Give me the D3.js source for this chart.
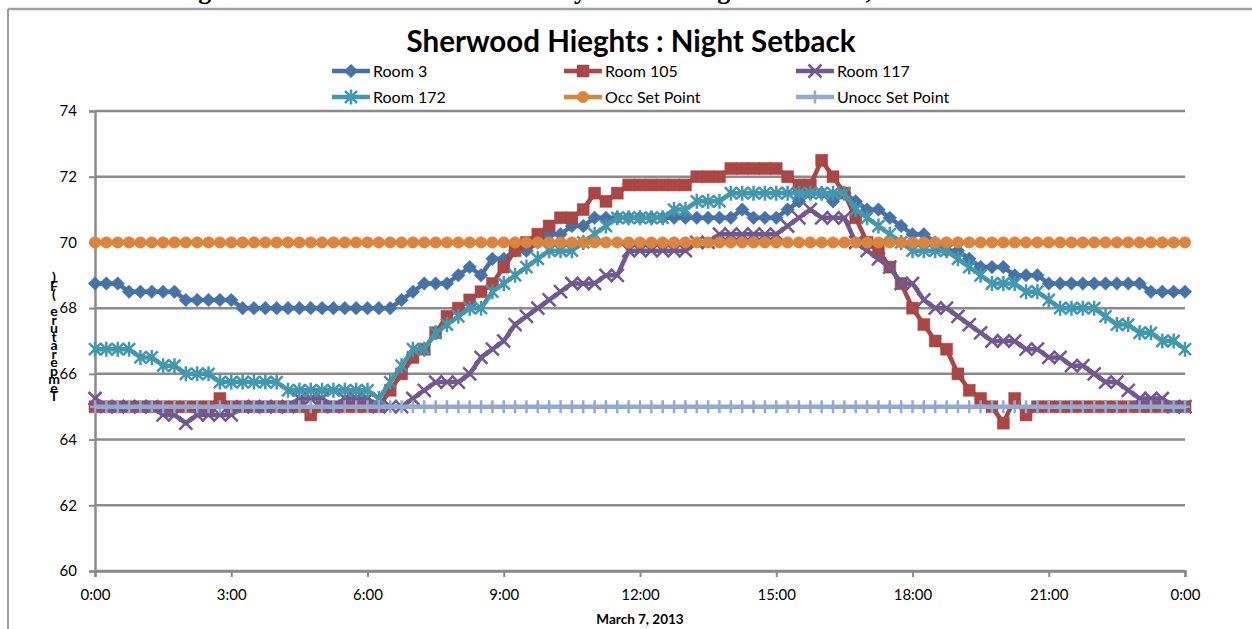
<!DOCTYPE html>
<html>
<head>
<meta charset="utf-8">
<script src="https://cdn.jsdelivr.net/npm/d3@7"></script>
<style>
  body { margin: 0; background: #fff; }
  svg { display: block; font-family: Lato, "Liberation Sans", sans-serif; }
</style>
</head>
<body>
<svg class="chart"></svg>
<script>
    const width = 1252;
    const height = 629;

    // 15 minute readings, 0:00 to 0:00 next day (97 points)
    const slots = d3.range(97);
    const tickSlots = [0, 12, 24, 36, 48, 60, 72, 84, 96];
    const tickLabels = ["0:00", "3:00", "6:00", "9:00", "12:00", "15:00", "18:00", "21:00", "0:00"];
    const yTicks = [60, 62, 64, 66, 68, 70, 72, 74];

    const room3 = [
      68.75, 68.75, 68.75, 68.5, 68.5, 68.5, 68.5, 68.5, 68.25, 68.25, 68.25, 68.25, 68.25,
      68, 68, 68, 68, 68, 68, 68, 68, 68, 68, 68, 68, 68, 68,
      68.25, 68.5, 68.75, 68.75, 68.75, 69, 69.25, 69, 69.5, 69.5, 69.75, 69.75, 70,
      70.25, 70.25, 70.5, 70.5, 70.75, 70.75, 70.75, 70.75,
      70.75, 70.75, 70.75, 70.75, 70.75, 70.75, 70.75, 70.75, 70.75,
      71, 70.75, 70.75, 70.75, 71, 71.25, 71.5, 71.5, 71.25, 71.5, 71.25, 71, 71,
      70.75, 70.5, 70.25, 70.25, 70, 69.75, 69.75, 69.5, 69.25, 69.25, 69.25, 69, 69, 69,
      68.75, 68.75, 68.75, 68.75, 68.75, 68.75, 68.75, 68.75, 68.75,
      68.5, 68.5, 68.5, 68.5
    ];
    const room105 = [
      65, 65, 65, 65, 65, 65, 65, 65, 65, 65, 65, 65.25,
      65, 65, 65, 65, 65, 65, 65, 64.75, 65, 65, 65, 65, 65, 65,
      65.5, 66, 66.5, 66.75, 67.25, 67.75, 68, 68.25, 68.5, 68.75, 69.25, 69.75, 70,
      70.25, 70.5, 70.75, 70.75, 71, 71.5, 71.25, 71.5, 71.75,
      71.75, 71.75, 71.75, 71.75, 71.75, 72, 72, 72,
      72.25, 72.25, 72.25, 72.25, 72.25, 72, 71.75, 71.75, 72.5, 72, 71.5,
      70.75, 70, 69.75, 69.25, 68.75, 68, 67.5, 67, 66.75, 66, 65.5, 65.25, 65,
      64.5, 65.25, 64.75,
      65, 65, 65, 65, 65, 65, 65, 65, 65, 65, 65, 65, 65, 65
    ];
    const room117 = [
      65.25, 65, 65, 65, 65, 65, 64.75, 64.75, 64.5, 64.75, 64.75, 64.75, 64.75,
      65, 65, 65, 65, 65, 65.25, 65.25, 65.25, 65, 65.25, 65.25, 65.25, 65, 65, 65,
      65.25, 65.5, 65.75, 65.75, 65.75, 66, 66.5, 66.75, 67, 67.5, 67.75, 68,
      68.25, 68.5, 68.75, 68.75, 68.75, 69, 69, 69.75,
      69.75, 69.75, 69.75, 69.75, 69.75, 70, 70,
      70.25, 70.25, 70.25, 70.25, 70.25, 70.25, 70.5, 70.75, 71, 70.75, 70.75, 70.75,
      70, 69.75, 69.5, 69.25, 68.75, 68.75, 68.25, 68, 68, 67.75, 67.5, 67.25, 67, 67, 67,
      66.75, 66.75, 66.5, 66.5, 66.25, 66.25, 66, 65.75, 65.75, 65.5, 65.25, 65.25, 65.25,
      65, 65
    ];
    const room172 = [
      66.75, 66.75, 66.75, 66.75, 66.5, 66.5, 66.25, 66.25, 66, 66, 66,
      65.75, 65.75, 65.75, 65.75, 65.75, 65.75,
      65.5, 65.5, 65.5, 65.5, 65.5, 65.5, 65.5, 65.5, 65.25,
      65.75, 66.25, 66.75, 66.75, 67.25, 67.5, 67.75, 68, 68, 68.5, 68.75, 69, 69.25, 69.5,
      69.75, 69.75, 69.75, 70, 70.25, 70.5, 70.75, 70.75,
      70.75, 70.75, 70.75, 71, 71, 71.25, 71.25, 71.25,
      71.5, 71.5, 71.5, 71.5, 71.5, 71.5, 71.5, 71.5, 71.5, 71.5, 71.5,
      71, 70.75, 70.5, 70.25, 70, 69.75, 69.75, 69.75, 69.75, 69.5, 69.25, 69,
      68.75, 68.75, 68.75, 68.5, 68.5, 68.25, 68, 68, 68, 68,
      67.75, 67.5, 67.5, 67.25, 67.25, 67, 67, 66.75
    ];
    const occSetPoint = slots.map(() => 70);
    const unoccSetPoint = slots.map(() => 65);

    const seriesNames = ["Room 3", "Room 105", "Room 117", "Room 172", "Occ Set Point", "Unocc Set Point"];
    const seriesValues = [room3, room105, room117, room172, occSetPoint, unoccSetPoint];
    const colors = ["#4572a7", "#aa4643", "#71588f", "#4198af", "#db843d", "#93a9cf"];
    const markers = ["diamond", "square", "x", "star", "circle", "plus"];

    const svg = d3.select('.chart')
      .attr('width', width).attr('height', height);

    const x = d3.scaleLinear().domain([0, 96]).range([95, 1185]);
    const y = d3.scaleLinear().domain([60, 74]).range([571, 111]);

    // outer chart frame (partly cut off in the original page)
    svg.append("line").attr("x1", 8).attr("x2", width).attr("y1", 9).attr("y2", 9)
      .style("stroke", "#a0a0a0").style("stroke-width", 2.5);
    svg.append("line").attr("x1", 8).attr("x2", 8).attr("y1", 9).attr("y2", height)
      .style("stroke", "#a0a0a0").style("stroke-width", 2);

    // document caption above the chart, only its descenders show
    svg.append("text")
      .attr("x", 172).attr("y", -1)
      .attr("textLength", 700)
      .style("font-family", "'Liberation Serif', serif")
      .style("font-weight", "bold").style("font-size", "26px")
      .text("Figure 10: Sherwood Elementary School Night Setback,");

    // title
    svg.append("text")
      .attr("x", 631).attr("y", 52)
      .attr("text-anchor", "middle")
      .style("font-weight", "bold").style("font-size", "29.5px")
      .text("Sherwood Hieghts : Night Setback");

    // gridlines
    svg.append("g").selectAll("line")
      .data(yTicks)
      .enter().append("line")
      .attr("x1", x(0)).attr("x2", x(96))
      .attr("y1", d => y(d)).attr("y2", d => y(d))
      .style("stroke", "#8a8a8a").style("stroke-width", 2.5);

    // y axis
    const yAxis = svg.append("g").attr("transform", `translate(${x(0)},0)`)
      .call(d3.axisLeft(y).tickValues(yTicks).tickSize(6).tickPadding(12).tickFormat(d3.format("d")));
    yAxis.select(".domain").style("stroke", "#8a8a8a").style("stroke-width", 2.5);
    yAxis.selectAll(".tick line").style("stroke", "#8a8a8a").style("stroke-width", 2);
    yAxis.selectAll(".tick text").style("font-family", "Lato, sans-serif").style("font-size", "15px").style("fill", "#000");

    // x axis
    const xAxis = svg.append("g").attr("transform", `translate(0,${y(60)})`)
      .call(d3.axisBottom(x).tickValues(tickSlots).tickSize(6).tickPadding(12)
        .tickFormat((d, i) => tickLabels[i]));
    xAxis.select(".domain").style("stroke", "#8a8a8a").style("stroke-width", 2.5);
    xAxis.selectAll(".tick line").style("stroke", "#8a8a8a").style("stroke-width", 2);
    xAxis.selectAll(".tick text").style("font-family", "Lato, sans-serif").style("font-size", "15px").style("fill", "#000");

    svg.append("text")
      .attr("x", 640).attr("y", 624)
      .attr("text-anchor", "middle")
      .style("font-family", "Lato, sans-serif")
      .style("font-weight", "bold").style("font-size", "13.5px")
      .text("March 7, 2013");

    // y title: glyphs stacked upright, read bottom to top
    const yTitle = "Temperature (F)".split("");
    svg.append("g").selectAll("text")
      .data(yTitle)
      .enter().append("text")
      .attr("x", 54)
      .attr("y", (d, i) => 401 - i * 8.5)
      .attr("text-anchor", "middle")
      .style("font-weight", "bold").style("font-size", "14px")
      .text(d => d);

    function markerPath(type) {
      if (type === "diamond") return "M0,-6.8L6.8,0L0,6.8L-6.8,0Z";
      if (type === "square") return "M-6,-6H6V6H-6Z";
      if (type === "circle") return d3.symbol(d3.symbolCircle, 105)();
      if (type === "x") return "M-6.5,-6.5L6.5,6.5M-6.5,6.5L6.5,-6.5";
      if (type === "star") return "M-6,-6L6,6M-6,6L6,-6M0,-7.5V7.5";
      return "M0,-6.5V6.5M-5,0H5";
    }
    const filled = t => t === "diamond" || t === "square" || t === "circle";

    function drawMarker(sel, type, color) {
      sel.attr("d", markerPath(type))
        .style("fill", filled(type) ? color : "none")
        .style("stroke", color)
        .style("stroke-width", filled(type) ? 0.5 : 2.5);
    }

    const line = d3.line().x((d, i) => x(i)).y(d => y(d));

    seriesValues.forEach((values, s) => {
      const g = svg.append("g").attr("class", "series");
      g.append("path")
        .datum(values)
        .attr("d", line)
        .style("fill", "none")
        .style("stroke", colors[s])
        .style("stroke-width", 4.5)
        .style("stroke-linejoin", "round");
      g.selectAll(".mark")
        .data(values)
        .enter().append("path")
        .attr("class", "mark")
        .attr("transform", (d, i) => `translate(${x(i)},${y(d)})`)
        .call(drawMarker, markers[s], colors[s]);
    });

    // legend, 3 columns x 2 rows
    const legendCols = [332, 564, 796];
    const legendRows = [71, 97];
    const legend = svg.append("g").selectAll("g")
      .data(seriesNames)
      .enter().append("g")
      .attr("transform", (d, i) => `translate(${legendCols[i % 3]},${legendRows[Math.floor(i / 3)]})`);
    legend.append("line")
      .attr("x1", 0).attr("x2", 38)
      .style("stroke", (d, i) => colors[i]).style("stroke-width", 4.5);
    legend.append("path")
      .attr("transform", "translate(19,0)")
      .each(function (d, i) { d3.select(this).call(drawMarker, markers[i], colors[i]); });
    legend.append("text")
      .attr("x", 41).attr("dy", "0.35em")
      .style("font-size", "16px")
      .text(d => d);
</script>
</body>
</html>
